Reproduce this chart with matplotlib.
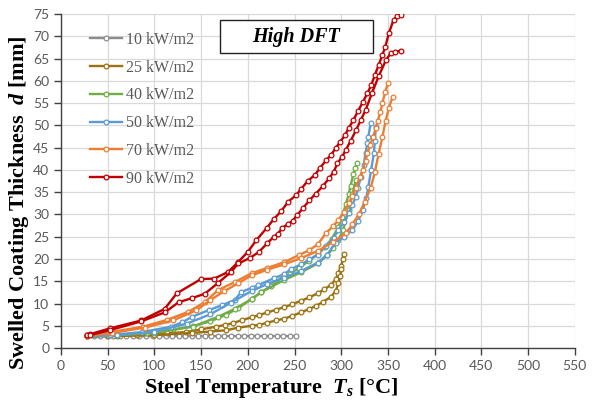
#!/usr/bin/env python
# coding: utf-8

import matplotlib
matplotlib.use("Agg")
from matplotlib import pyplot as plt
from matplotlib.patches import Rectangle

plt.rcParams["mathtext.fontset"] = "custom"
plt.rcParams["mathtext.it"] = "Liberation Serif:italic:bold"
plt.rcParams["mathtext.rm"] = "Liberation Serif:bold"
plt.rcParams["mathtext.bf"] = "Liberation Serif:bold"

# --- data (two tests per heat flux) ---
labels = ["10 kW/m2", "25 kW/m2", "40 kW/m2", "50 kW/m2", "70 kW/m2", "90 kW/m2"]
colors = ["#8c8c8c", "#9e7110", "#70ad47", "#5b9bd5", "#ed7d31", "#c00000"]

t10 = [28, 35, 42, 49, 56, 63, 70, 77, 84, 91, 98, 105, 112, 119, 126, 133, 140,
       147, 154, 161, 168, 175, 182, 189, 196, 203, 210, 217, 224, 231, 238, 245, 252]
d10 = [2.8, 2.7, 2.7, 2.7, 2.7, 2.7, 2.7, 2.7, 2.7, 2.7, 2.7, 2.7, 2.7, 2.7, 2.7, 2.7, 2.7,
       2.7, 2.7, 2.7, 2.7, 2.7, 2.7, 2.7, 2.7, 2.7, 2.7, 2.7, 2.7, 2.7, 2.7, 2.7, 2.7]

t25a = [28, 50, 81, 113, 134, 150, 166, 176, 184, 194, 204, 212, 221, 230, 239, 247,
        257, 266, 275, 282, 289, 294, 297, 300, 302, 303]
d25a = [2.6, 2.8, 2.9, 3.3, 3.6, 4.2, 4.8, 5.2, 5.6, 6.3, 6.9, 7.4, 8.0, 8.6, 9.2, 9.8,
        10.6, 11.4, 12.3, 13.2, 14.2, 15.4, 16.8, 18.5, 20.0, 21.2]
t25b = [28, 60, 100, 140, 160, 177, 190, 204, 212, 221, 230, 239, 247, 257, 266, 273,
        280, 289, 294, 297, 299, 300]
d25b = [2.6, 2.7, 2.9, 3.4, 3.7, 4.0, 4.6, 5.0, 5.2, 5.7, 6.2, 6.6, 7.2, 8.0, 8.8, 9.5,
        10.3, 11.5, 12.8, 14.5, 16.2, 17.8]

t40a = [28, 52, 92, 120, 141, 160, 177, 190, 204, 214, 225, 235, 245, 255, 265, 275,
        283, 290, 297, 301, 305, 308, 310, 313, 315, 317]
d40a = [2.6, 2.9, 3.3, 4.2, 4.9, 6.0, 7.5, 9.0, 11.0, 12.5, 14.0, 15.4, 16.7, 18.0, 19.5, 21.1,
        22.7, 24.6, 27.2, 29.5, 32.4, 34.5, 36.5, 39.0, 40.5, 41.5]
t40b = [28, 60, 100, 141, 168, 186, 204, 214, 239, 257, 275, 285, 291, 297, 302, 308, 312, 315.6]
d40b = [2.6, 2.9, 3.4, 4.8, 7.0, 8.8, 11.0, 12.5, 15.3, 17.0, 19.0, 20.8, 22.4, 24.3, 26.5,
        31.0, 34.5, 37.7]

t50a = [28, 52, 87, 118, 130, 140, 158, 172, 186, 193, 204, 211, 228, 239, 246, 257, 266,
        275, 283.6, 292, 297, 303, 308, 312, 315.6, 318, 321, 324, 326, 328, 329, 331.5]
d50a = [2.7, 2.9, 3.6, 4.8, 5.8, 7.0, 8.5, 9.6, 10.8, 12.6, 13.5, 14.1, 15.7, 16.6, 17.7, 18.8,
        19.9, 21.0, 23.0, 24.8, 26.5, 28.4, 30.3, 32.2, 34.0, 36.0, 38.4, 41.0, 43.8, 46.0, 47.4, 50.5]
t50b = [28, 60, 100, 135, 160, 182, 204, 221, 239, 257, 275, 285, 294, 303, 312, 318, 323,
        327, 329, 332, 335, 336, 337]
d50b = [2.7, 2.9, 3.7, 5.5, 7.6, 10.2, 12.8, 14.4, 15.8, 17.3, 19.2, 21.0, 23.6, 25.0, 26.5,
        28.5, 31.0, 33.8, 36.2, 40.0, 43.8, 46.5, 49.6]

t70a = [28, 50, 88, 113, 136, 154, 168, 186, 204, 221, 239, 255, 266, 275, 283.6, 291, 297,
        303, 308, 312, 315.6, 320, 323, 326, 328, 331, 334, 337, 339, 342, 344, 347, 350]
d70a = [2.8, 3.5, 4.8, 6.3, 8.1, 10.3, 13.0, 14.8, 16.8, 18.0, 19.3, 20.9, 22.0, 23.3, 25.8,
        27.3, 28.7, 30.5, 32.5, 34.2, 36.0, 38.4, 40.0, 42.0, 43.8, 45.6, 47.4, 49.4, 51.0, 53.0,
        55.0, 57.4, 59.5]
t70b = [28, 55, 90, 120, 145, 160, 175, 190, 204, 221, 239, 257, 275, 291, 305, 312, 319,
        325, 331.6, 336, 340, 344, 347.5, 351, 355]
d70b = [2.8, 3.4, 4.6, 6.2, 8.5, 10.8, 12.8, 14.6, 16.3, 17.6, 18.8, 20.2, 21.8, 23.8, 25.8,
        27.8, 30.1, 32.8, 36.0, 39.5, 43.6, 47.3, 51.0, 54.0, 56.4]

t90a = [28, 31, 52, 86, 111, 124, 150, 164, 179, 190, 200, 209, 220, 228, 236, 243, 252, 257,
        264, 272, 277, 284, 289, 294, 299, 304, 308, 313, 318, 323, 328, 332, 336, 340, 344,
        347, 351, 356, 360, 364]
d90a = [3.0, 3.1, 4.4, 6.2, 8.8, 12.3, 15.5, 15.6, 17.1, 19.4, 21.6, 24.2, 26.9, 29.0, 30.8,
        32.8, 34.4, 35.7, 37.5, 38.9, 40.4, 42.2, 43.3, 44.9, 46.3, 47.8, 49.4, 51.2, 53.2, 55.2,
        57.2, 59.0, 61.3, 63.5, 65.8, 67.5, 70.7, 73.7, 74.5, 74.8]
t90b = [28, 31, 52, 86, 111, 126, 140, 154, 168, 182, 190, 202, 212, 221, 228, 232, 237, 243,
        248, 253, 259, 266, 273, 280, 287, 292, 296, 301, 305, 310, 316, 321, 326, 333, 340,
        348, 353, 358, 364]
d90b = [3.0, 2.9, 4.0, 6.0, 8.0, 10.3, 11.2, 12.2, 14.6, 17.1, 19.0, 20.2, 21.6, 23.6, 25.0,
        25.6, 27.0, 27.8, 28.6, 29.9, 31.4, 33.2, 34.7, 36.3, 38.1, 39.6, 41.5, 43.0, 44.5, 46.5,
        49.0, 51.2, 53.4, 57.3, 61.0, 64.7, 66.2, 66.5, 66.8]

series = [
    [(t10, d10)],
    [(t25a, d25a), (t25b, d25b)],
    [(t40a, d40a), (t40b, d40b)],
    [(t50a, d50a), (t50b, d50b)],
    [(t70a, d70a), (t70b, d70b)],
    [(t90a, d90a), (t90b, d90b)],
]

serif = ["Liberation Serif", "DejaVu Serif"]
tickgray = "#595959"

fig = plt.figure(figsize=(5.95, 4.01), dpi=100)
ax = fig.add_axes([0.1025, 0.132, 0.8635, 0.833])

handles = []
for curves, lab, col in zip(series, labels, colors):
    for i, (t, d) in enumerate(curves):
        ln, = ax.plot(t, d, color=col, lw=1.7, marker="o", ms=3.4,
                      mfc="white", mec=col, mew=0.9, zorder=3)
        if i == 0:
            handles.append(ln)

ax.set_xlim(0, 550)
ax.set_ylim(0, 75)
ax.set_xticks(range(0, 551, 50))
ax.set_yticks(range(0, 76, 5))
ax.grid(True, color="#d9d9d9", lw=0.9, zorder=0)
ax.set_axisbelow(True)
for s in ["top", "right"]:
    ax.spines[s].set_visible(False)
for s in ["left", "bottom"]:
    ax.spines[s].set_color("#404040")
    ax.spines[s].set_linewidth(1.0)
ax.tick_params(direction="out", length=5, width=1.0, color="#404040",
               labelcolor=tickgray, labelsize=10)
for lb in ax.get_xticklabels() + ax.get_yticklabels():
    lb.set_family("Lato")

ax.set_xlabel(r"Steel Temperature  $T_s$ [°C]", fontsize=16,
              fontweight="bold", family=serif)
ax.set_ylabel(r"Swelled Coating Thickness  $d$ [mm]", fontsize=16,
              fontweight="bold", family=serif)
ax.xaxis.set_label_coords(0.41, -0.085)
ax.yaxis.set_label_coords(-0.058, 0.434)

leg = ax.legend(handles, labels, loc="upper left", bbox_to_anchor=(0.028, 0.99),
                frameon=False, handlelength=2.0, labelspacing=0.74, handletextpad=0.3,
                prop={"family": serif, "size": 11.5})
for txt in leg.get_texts():
    txt.set_color(tickgray)

# title box
ax.add_patch(Rectangle((0.309, 0.883), 0.298, 0.099, transform=ax.transAxes,
                       facecolor="white", edgecolor="#222222", lw=1.0, zorder=4))
ax.text(0.458, 0.932, "High DFT", transform=ax.transAxes, ha="center", va="center",
        fontsize=14.5, fontweight="bold", style="italic", family=serif, zorder=5)

fig.savefig("out.png", dpi=100)
